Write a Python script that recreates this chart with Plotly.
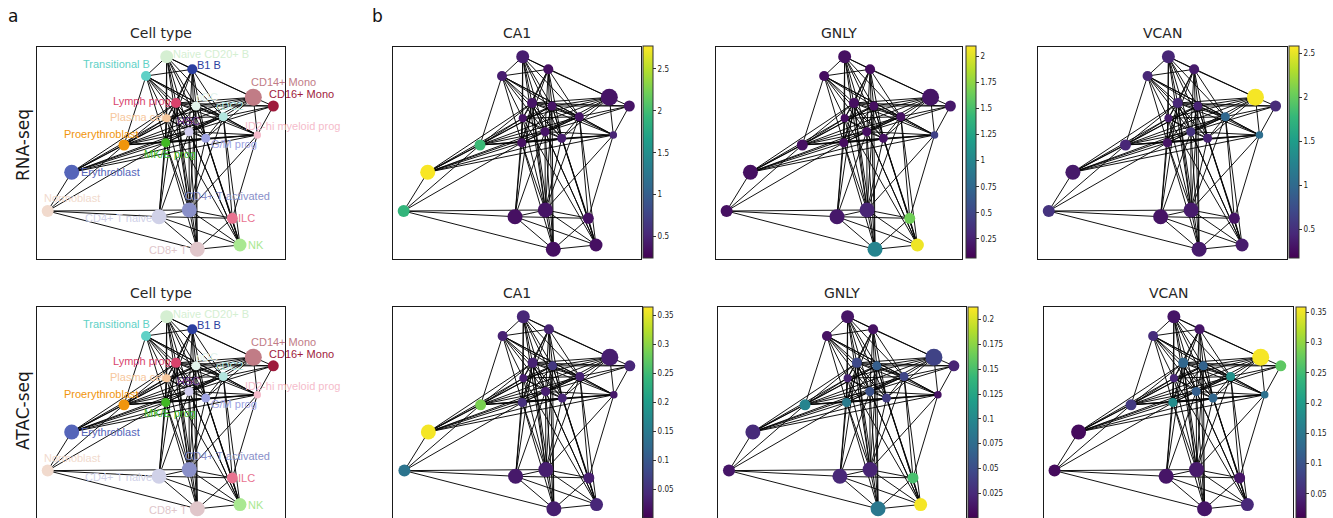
import plotly.graph_objects as go

W, H = 1333, 518

# ---------------- data ----------------
cell_types = ["Naive CD20+ B", "B1 B", "Transitional B", "CD14+ Mono", "CD16+ Mono",
              "Lymph prog", "pDC", "cDC2", "Plasma cell", "HSC", "G/M prog", "MK/E prog",
              "ID2-hi myeloid prog", "Proerythroblast", "Erythroblast", "Normoblast",
              "CD4+ T naive", "CD4+ T activated", "ILC", "NK", "CD8+ T"]

# PAGA layout coordinates of each cell-type node
pos_x = [130.0, 155.6, 109.3, 216.6, 236.6, 139.3, 159.3, 186.6, 130.0, 152.3, 169.0,
         129.0, 220.6, 87.3, 35.0, 11.0, 122.3, 152.6, 195.6, 203.3, 160.6]
pos_y = [201.8, 189.2, 182.5, 161.2, 152.5, 155.5, 152.5, 141.8, 140.2, 126.8, 120.2,
         115.8, 123.5, 113.5, 86.2, 47.5, 41.8, 48.5, 40.2, 13.5, 9.2]
# relative group size (marker diameter)
group_size = [13, 10, 10, 17, 11, 10, 9, 9, 8, 9, 9, 9, 7.5, 11, 15, 12, 15, 15, 11, 13, 15]

# PAGA connectivity edges (node index pairs)
edges = [(15, 14), (15, 13), (15, 16), (15, 17), (15, 20), (15, 11),
         (14, 13), (14, 11), (14, 8), (14, 5), (14, 9), (14, 10), (14, 6), (14, 7), (14, 12),
         (13, 11), (13, 8), (13, 5), (13, 9), (13, 6), (13, 7), (13, 10), (13, 2), (13, 3), (13, 12),
         (2, 0), (2, 1), (2, 5), (2, 6), (2, 8), (2, 9), (2, 11), (2, 7), (2, 10), (2, 12),
         (0, 1), (0, 5), (0, 6), (0, 8), (0, 9), (0, 11), (0, 10), (0, 7), (0, 3), (0, 17),
         (1, 5), (1, 6), (1, 8), (1, 9), (1, 11), (1, 7), (1, 10), (1, 3), (1, 20),
         (3, 4), (3, 5), (3, 6), (3, 7), (3, 12), (3, 9), (3, 10), (3, 8),
         (4, 5), (4, 6), (4, 7), (4, 12), (4, 9),
         (12, 7), (12, 6), (12, 9), (12, 10), (12, 11), (12, 18), (12, 17), (12, 5),
         (5, 6), (5, 7), (5, 8), (5, 9), (5, 10), (5, 11), (6, 7), (6, 8), (6, 9), (6, 10),
         (6, 11), (7, 8), (7, 9), (7, 10), (7, 11), (8, 9), (8, 10), (8, 11), (9, 10), (9, 11),
         (10, 11),
         (16, 17), (16, 20), (16, 18), (16, 19), (17, 18), (17, 19), (17, 20), (18, 19),
         (18, 20), (19, 20),
         (5, 16), (5, 17), (5, 19), (5, 20), (6, 17), (6, 19), (6, 20), (9, 16), (9, 17),
         (9, 19), (9, 20), (8, 16), (8, 17), (11, 16), (11, 17), (10, 18), (10, 19), (10, 17),
         (7, 18), (7, 19), (7, 17), (11, 20), (8, 19)]

genes = ["CA1", "GNLY", "VCAN"]

rna_CA1 = [0.45, 0.35, 0.45, 0.38, 0.38, 0.38, 0.38, 0.38, 0.38, 0.38, 0.45,
           0.35, 0.5, 1.95, 2.75, 1.9, 0.35, 0.38, 0.35, 0.35, 0.35]
rna_GNLY = [0.15, 0.13, 0.14, 0.18, 0.2, 0.14, 0.14, 0.16, 0.13, 0.15, 0.16,
            0.13, 0.47, 0.15, 0.15, 0.15, 0.2, 0.27, 1.65, 2.05, 0.98]
rna_VCAN = [0.43, 0.35, 0.43, 2.55, 0.46, 0.43, 0.4, 0.97, 0.35, 0.53, 0.4,
            0.3, 1.04, 0.43, 0.34, 0.53, 0.3, 0.35, 0.3, 0.35, 0.35]

atac_CA1 = [0.04, 0.035, 0.035, 0.03, 0.04, 0.035, 0.06, 0.035, 0.03, 0.03, 0.04,
            0.05, 0.025, 0.29, 0.36, 0.14, 0.025, 0.03, 0.03, 0.04, 0.03]
atac_GNLY = [0.012, 0.01, 0.01, 0.043, 0.021, 0.047, 0.064, 0.045, 0.02, 0.053, 0.038,
             0.088, 0.01, 0.096, 0.026, 0.013, 0.024, 0.021, 0.15, 0.21, 0.085]
atac_VCAN = [0.03, 0.03, 0.055, 0.355, 0.27, 0.125, 0.12, 0.185, 0.048, 0.115, 0.125,
             0.18, 0.14, 0.07, 0.02, 0.02, 0.03, 0.035, 0.03, 0.05, 0.03]

rna_ranges = [(0.24, 2.77), (0.064, 2.096), (0.17, 2.58)]
atac_ranges = [(0.0, 0.365), (0.0, 0.2127), (0.01, 0.359)]

rna_ticks = [[0.5, 1, 1.5, 2, 2.5],
             [0.25, 0.5, 0.75, 1, 1.25, 1.5, 1.75, 2],
             [0.5, 1, 1.5, 2, 2.5]]
rna_ticktext = [["0.5", "1", "1.5", "2", "2.5"],
                ["0.25", "0.5", "0.75", "1", "1.25", "1.5", "1.75", "2"],
                ["0.5", "1", "1.5", "2", "2.5"]]
atac_ticks = [[0, 0.05, 0.1, 0.15, 0.2, 0.25, 0.3, 0.35],
              [0, 0.025, 0.05, 0.075, 0.1, 0.125, 0.15, 0.175, 0.2],
              [0.05, 0.1, 0.15, 0.2, 0.25, 0.3, 0.35]]
atac_ticktext = [["0", "0.05", "0.1", "0.15", "0.2", "0.25", "0.3", "0.35"],
                 ["0", "0.025", "0.05", "0.075", "0.1", "0.125", "0.15", "0.175", "0.2"],
                 ["0.05", "0.1", "0.15", "0.2", "0.25", "0.3", "0.35"]]

# ---------------- styles ----------------
node_colors = ["#d5efd2", "#2b3ea0", "#5fd1c6", "#c17c86", "#9e1a3c", "#d8436c", "#e2f3ec",
               "#b4e6df", "#f6c79c", "#d2cdef", "#9ea3e2", "#41b824", "#f5bccb", "#f0950c",
               "#5565b9", "#f1dacd", "#d0d1e8", "#8a90c9", "#e8728f", "#a9e891", "#e0c6ca"]
label_colors = list(node_colors)
label_colors[9] = "#7b3f98"
label_anchor = ["left", "left", "right", "left", "left", "right", "left", "left", "right",
                "center", "left", "center", "left", "right", "left", "left", "right", "left",
                "left", "left", "right"]
label_dx = [5, 4, 5, -3, -5, -4, -1, -8, 0, -1, 4, 4, -13, 16, 8, -5, -6, -5, 5, 7, -9]
label_dy = [3, 4, 12, 15.5, 12, 2, 9, 11, 1, 11, -6, -11, 9, 11, 0, 13, -1, 14, 0, 0, -1]

XR = 248.3
YR = 211.8

# panel boxes in pixels: (left, right, top, bottom)
boxes = {
    (0, 0): (36.7, 285.0, 46.7, 258.5),
    (0, 1): (392.7, 641.0, 46.7, 258.5),
    (0, 2): (715.7, 962.0, 46.7, 258.5),
    (0, 3): (1037.7, 1287.3, 46.7, 258.5),
    (1, 0): (36.7, 285.0, 306.7, 518.0),
    (1, 1): (393.4, 641.5, 306.7, 518.0),
    (1, 2): (718.0, 965.5, 306.7, 518.0),
    (1, 3): (1043.5, 1292.5, 306.7, 518.0),
}
cbars = {
    (0, 1): (642.7, 46.7, 258.3),
    (0, 2): (965.7, 46.7, 258.3),
    (0, 3): (1289.0, 46.7, 258.3),
    (1, 1): (642.7, 306.7, 518.0),
    (1, 2): (968.0, 306.7, 518.0),
    (1, 3): (1296.0, 306.7, 518.0),
}

fig = go.Figure()
annotations = []
layout_axes = {}

edge_x, edge_y = [], []
for a, b in edges:
    edge_x += [pos_x[a], pos_x[b], None]
    edge_y += [pos_y[a], pos_y[b], None]

idx = 0
for row in range(2):
    for col in range(4):
        idx += 1
        xa = "x" if idx == 1 else f"x{idx}"
        ya = "y" if idx == 1 else f"y{idx}"
        l, r, t, b = boxes[(row, col)]
        ax_common = dict(showgrid=False, zeroline=False, showticklabels=False, ticks="",
                         showline=True, mirror=True, linecolor="#1a1a1a", linewidth=1.2)
        layout_axes["xaxis" if idx == 1 else f"xaxis{idx}"] = dict(
            domain=[l / W, r / W], range=[0, XR], anchor=ya, **ax_common)
        layout_axes["yaxis" if idx == 1 else f"yaxis{idx}"] = dict(
            domain=[(H - b) / H, (H - t) / H], range=[0, YR], anchor=xa, **ax_common)

        fig.add_trace(go.Scatter(x=edge_x, y=edge_y, mode="lines", xaxis=xa, yaxis=ya,
                                 line=dict(color="rgba(5,5,5,0.95)", width=1.0),
                                 hoverinfo="skip", showlegend=False))
        if col == 0:
            marker = dict(size=group_size, color=node_colors, line=dict(width=0), opacity=1)
        else:
            g = col - 1
            vals = [rna_CA1, rna_GNLY, rna_VCAN][g] if row == 0 else [atac_CA1, atac_GNLY, atac_VCAN][g]
            rng = rna_ranges[g] if row == 0 else atac_ranges[g]
            tv = rna_ticks[g] if row == 0 else atac_ticks[g]
            tt = rna_ticktext[g] if row == 0 else atac_ticktext[g]
            cx, ct, cb = cbars[(row, col)]
            marker = dict(size=group_size, color=vals, colorscale="Viridis", opacity=1,
                          cmin=rng[0], cmax=rng[1], line=dict(width=0),
                          showscale=True,
                          colorbar=dict(x=cx / W, xanchor="left", xpad=0,
                                        y=(H - cb) / H, yanchor="bottom", ypad=0,
                                        len=cb - ct, lenmode="pixels",
                                        thickness=10, thicknessmode="pixels",
                                        outlinewidth=1, outlinecolor="#333",
                                        tickvals=tv, ticktext=tt, ticks="outside",
                                        ticklen=3, tickwidth=1, tickcolor="#333",
                                        tickfont=dict(size=8, color="#222",
                                                      family="DejaVu Sans Condensed, DejaVu Sans")))
        fig.add_trace(go.Scatter(x=pos_x, y=pos_y, mode="markers", xaxis=xa, yaxis=ya,
                                 marker=marker, hoverinfo="text", text=cell_types,
                                 showlegend=False, cliponaxis=False))

        title = "Cell type" if col == 0 else genes[col - 1]
        annotations.append(dict(text=title, x=(l + r) / 2 / W, y=(H - (t - 14)) / H,
                                xref="paper", yref="paper", xanchor="center", yanchor="middle",
                                showarrow=False,
                                font=dict(size=14, color="#262626", family="DejaVu Sans")))
        if col == 0:
            for i, name in enumerate(cell_types):
                annotations.append(dict(text=name, x=pos_x[i], y=pos_y[i], xref=xa, yref=ya,
                                        xanchor=label_anchor[i], yanchor="middle",
                                        xshift=label_dx[i], yshift=label_dy[i],
                                        showarrow=False, borderpad=0,
                                        font=dict(size=11, color=label_colors[i],
                                                  family="Liberation Sans, Arial")))

# row labels and panel letters
annotations.append(dict(text="RNA-seq", x=23 / W, y=(H - 145) / H, xref="paper", yref="paper",
                        textangle=-90, showarrow=False, xanchor="center", yanchor="middle",
                        font=dict(size=17, color="#1a1a1a", family="DejaVu Sans")))
annotations.append(dict(text="ATAC-seq", x=23 / W, y=(H - 411) / H, xref="paper", yref="paper",
                        textangle=-90, showarrow=False, xanchor="center", yanchor="middle",
                        font=dict(size=17, color="#1a1a1a", family="DejaVu Sans")))
annotations.append(dict(text="a", x=13 / W, y=(H - 16) / H, xref="paper", yref="paper",
                        showarrow=False, xanchor="center", yanchor="middle",
                        font=dict(size=17, color="#111", family="DejaVu Sans")))
annotations.append(dict(text="b", x=377 / W, y=(H - 16) / H, xref="paper", yref="paper",
                        showarrow=False, xanchor="center", yanchor="middle",
                        font=dict(size=17, color="#111", family="DejaVu Sans")))

fig.update_layout(width=W, height=H, margin=dict(l=0, r=0, t=0, b=0),
                  paper_bgcolor="white", plot_bgcolor="white",
                  annotations=annotations, **layout_axes)

fig.write_html("out.html")
